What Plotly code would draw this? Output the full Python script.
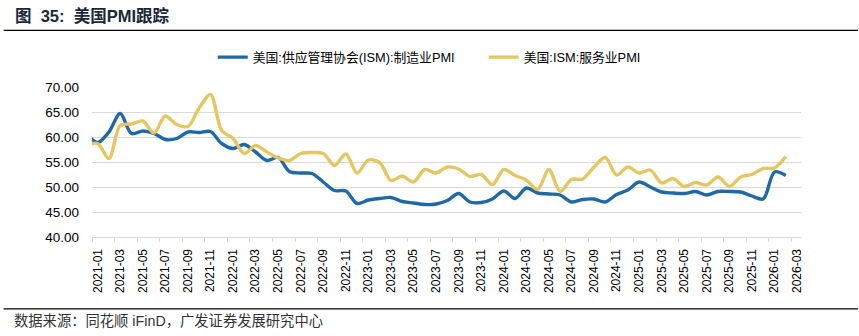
import plotly.graph_objects as go
import pandas as pd

# ---- data ----
months = [d.strftime("%Y-%m") for d in pd.date_range("2020-12-01", "2026-02-01", freq="MS")]

mfg_pmi = [60.7,
           58.9, 61.0, 64.7, 60.7, 61.2, 60.7, 59.5, 59.7, 61.0, 60.9, 61.1, 58.7,
           57.7, 58.5, 57.0, 55.3, 55.9, 53.1, 52.8, 52.7, 51.0, 49.3, 49.2, 46.7,
           47.4, 47.7, 47.9, 47.1, 46.8, 46.5, 46.6, 47.3, 48.7, 47.0, 46.9, 47.6,
           49.2, 47.7, 49.8, 48.8, 48.6, 48.4, 47.0, 47.5, 47.6, 47.0, 48.5, 49.4,
           51.0, 50.0, 49.0, 48.8, 48.7, 49.1, 48.4, 49.1, 49.1, 49.0, 48.2, 47.6,
           53.0, 52.3]

svc_pmi = [58.3,
           58.7, 55.7, 62.3, 62.6, 63.2, 60.8, 64.2, 62.5, 62.1, 65.8, 68.5, 61.3,
           59.7, 56.7, 58.3, 57.0, 55.8, 55.3, 56.7, 56.9, 56.7, 54.3, 56.6, 52.8,
           55.4, 54.9, 51.3, 52.2, 51.0, 53.5, 52.8, 54.0, 53.6, 52.1, 52.5, 50.5,
           53.5, 52.3, 51.4, 49.5, 53.5, 49.1, 51.5, 51.6, 54.0, 55.9, 52.4, 54.0,
           52.8, 53.4, 50.8, 51.7, 50.1, 50.9, 50.4, 52.0, 50.1, 52.0, 52.5, 53.7,
           53.8, 56.1]

tick_labels = [d.strftime("%Y-%m") for d in pd.date_range("2021-01-01", "2026-03-01", freq="2MS")]

series_names = ["美国:供应管理协会(ISM):制造业PMI", "美国:ISM:服务业PMI"]
title_text = "图\u00a0\u00a035:\u00a0\u00a0美国PMI跟踪"
source_text = "数据来源：同花顺 iFinD，广发证券发展研究中心"

# index positions: 2021-01 -> 0
x_idx = list(range(-1, len(months) - 1))
tick_pos = list(range(0, 2 * len(tick_labels), 2))
minor_pos = [p - 0.5 for p in tick_pos]

BLUE = "#1f69a6"
YELLOW = "#e6c660"
FONT = "Liberation Sans, Arial, Noto Sans CJK SC"

W, H = 859, 336
L, R = 92.3, 801.0
T, B = 86.7, 236.7

def px(xp):
    return (xp - L) / (R - L)

def py(yp):
    return (B - yp) / (B - T)

fig = go.Figure()
fig.add_trace(go.Scatter(x=x_idx, y=mfg_pmi, mode="lines", name=series_names[0],
                         line=dict(color=BLUE, width=3.4, shape="spline", smoothing=0.9)))
fig.add_trace(go.Scatter(x=x_idx, y=svc_pmi, mode="lines", name=series_names[1],
                         line=dict(color=YELLOW, width=3.4, shape="spline", smoothing=0.9)))

fig.update_layout(
    width=W, height=H,
    margin=dict(l=L, r=W - R, t=T, b=H - B, pad=0),
    paper_bgcolor="white", plot_bgcolor="white",
    font=dict(family=FONT, color="#000000"),
    showlegend=True,
    legend=dict(orientation="h", x=px(213), xanchor="left", y=py(57), yanchor="middle",
                font=dict(size=12.8, family=FONT, color="#000000"),
                entrywidth=226, entrywidthmode="pixels",
                bgcolor="rgba(0,0,0,0)", borderwidth=0, itemwidth=30),
    xaxis=dict(range=[-0.5, 62.35], showgrid=False, zeroline=False,
               showline=True, linecolor="#d9d9d9", linewidth=1.3,
               tickmode="array", tickvals=tick_pos, ticktext=tick_labels,
               ticks="", tickangle=-90, tickfont=dict(size=12, family=FONT, color="#000000"),
               ticklabelstandoff=6,
               minor=dict(tickmode="array", tickvals=minor_pos, ticks="outside",
                          ticklen=4, tickcolor="#d9d9d9", tickwidth=1.3, showgrid=False)),
    yaxis=dict(range=[40, 70], dtick=5, tick0=40, tickformat=".2f",
               showgrid=True, gridcolor="#d9d9d9", gridwidth=1.3,
               zeroline=False, showline=False, ticks="",
               tickfont=dict(size=13.5, family=FONT, color="#000000"),
               ticklabelstandoff=12),
)

# title, rules and source
fig.add_annotation(text="<b>" + title_text + "</b>", xref="paper", yref="paper",
                   x=px(13), y=py(15), xanchor="left", yanchor="middle", showarrow=False,
                   font=dict(size=16.5, family=FONT, color="#1b2738"))
fig.add_shape(type="line", xref="paper", yref="paper", x0=px(4), x1=px(858),
              y0=py(30), y1=py(30), line=dict(color="#000000", width=1.3))
fig.add_shape(type="line", xref="paper", yref="paper", x0=px(4), x1=px(858),
              y0=py(308.5), y1=py(308.5), line=dict(color="#000000", width=1.3))
fig.add_annotation(text=source_text, xref="paper", yref="paper",
                   x=px(12), y=py(321), xanchor="left", yanchor="middle", showarrow=False,
                   font=dict(size=14.3, family=FONT, color="#333333"))

fig.write_html("out.html")
